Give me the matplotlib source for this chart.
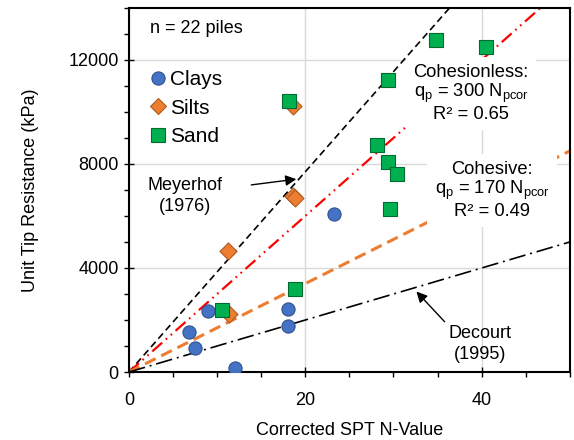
import numpy as np
import matplotlib
matplotlib.use("Agg")
import matplotlib.pyplot as plt
from matplotlib.lines import Line2D
from matplotlib.ticker import MultipleLocator

plt.rcParams['font.family'] = ['Liberation Sans', 'DejaVu Sans']
plt.rcParams['mathtext.fontset'] = 'custom'
plt.rcParams['mathtext.rm'] = 'Liberation Sans'
plt.rcParams['lines.scale_dashes'] = False

# pile data (N-value, unit tip resistance kPa)
clay_n = [6.8, 7.5, 9.0, 12.0, 18.0, 18.0, 23.2]
clay_q = [1520, 940, 2350, 150, 2420, 1770, 6090]
silt_n = [11.3, 11.2, 18.6, 18.6, 18.8]
silt_q = [2220, 4670, 10220, 6780, 6700]
sand_n = [10.5, 18.8, 18.1, 28.1, 29.4, 29.4, 30.4, 29.6, 34.8, 40.5]
sand_q = [2400, 3190, 10420, 8710, 11230, 8060, 7600, 6270, 12760, 12500]

# q = k * N lines
meyerhof_k = 385
cohesionless_k = 300
cohesive_k = 170
decourt_k = 100

n_line = np.linspace(0, 50, 200)

fig = plt.figure(figsize=(5.74, 4.40), dpi=100)
ax = fig.add_axes([0.2247, 0.1545, 0.768, 0.8275])

ax.plot(n_line, meyerhof_k * n_line, color='black', lw=1.2, dashes=[5, 3], zorder=2)
ax.plot(n_line, cohesionless_k * n_line, color='#FF0000', lw=1.6,
        dashes=[9.5, 3.5, 1.2, 3.5, 1.2, 3.5], zorder=2)
ax.plot(n_line, cohesive_k * n_line, color='#ED7D31', lw=2.2, dashes=[8.5, 4.5], zorder=2)
ax.plot(n_line, decourt_k * n_line, color='black', lw=1.2, dashes=[12, 3.5, 1.4, 3.5], zorder=2)

ax.scatter(clay_n, clay_q, s=90, marker='o', facecolor='#4472C4', edgecolor='#2F528F', lw=0.8, zorder=5)
ax.scatter(silt_n, silt_q, s=75, marker='D', facecolor='#ED7D31', edgecolor='#AE5A21', lw=0.8, zorder=5)
ax.scatter(sand_n, sand_q, s=110, marker='s', facecolor='#00B050', edgecolor='#006A30', lw=0.8, zorder=6)

ax.set_xlim(0, 50)
ax.set_ylim(0, 14000)
ax.xaxis.set_major_locator(MultipleLocator(20))
ax.xaxis.set_minor_locator(MultipleLocator(5))
ax.yaxis.set_major_locator(MultipleLocator(4000))
ax.yaxis.set_minor_locator(MultipleLocator(1000))
ax.grid(True, which='major', color='#D9D9D9', lw=1.0, zorder=0)
ax.set_axisbelow(True)
ax.tick_params(which='major', direction='inout', length=7, width=1.0, labelsize=13, pad=4)
ax.tick_params(axis='x', which='major', pad=11)
ax.tick_params(which='minor', direction='out', length=3.5, width=1.0)
for sp in ax.spines.values():
    sp.set_linewidth(1.5)

ax.set_xlabel('Corrected SPT N-Value', fontsize=13, labelpad=9)
ax.set_ylabel('Unit Tip Resistance (kPa)', fontsize=13, labelpad=21)

ax.text(2.4, 13215, 'n = 22 piles', fontsize=13, ha='left', va='center')

handles = [
    Line2D([], [], ls='none', marker='o', ms=9.5, mfc='#4472C4', mec='#2F528F', mew=0.8),
    Line2D([], [], ls='none', marker='D', ms=8, mfc='#ED7D31', mec='#AE5A21', mew=0.8),
    Line2D([], [], ls='none', marker='s', ms=10, mfc='#00B050', mec='#006A30', mew=0.8),
]
ax.legend(handles, ['Clays', 'Silts', 'Sand'], loc='upper left', bbox_to_anchor=(0.048, 0.83),
          frameon=False, fontsize=15, handlelength=0.8, handletextpad=0.15,
          borderpad=0, borderaxespad=0, labelspacing=0.47)

box = dict(boxstyle='square,pad=0.4', facecolor='white', edgecolor='none')
ax.text(38.8, 10700, 'Cohesionless:\nq$_\\mathregular{p}$ = 300 N$_\\mathregular{pcor}$\nR² = 0.65',
        fontsize=13.2, ha='center', va='center', multialignment='center',
        linespacing=1.05, bbox=box, zorder=4)
ax.text(41.2, 6990, 'Cohesive:\nq$_\\mathregular{p}$ = 170 N$_\\mathregular{pcor}$\nR² = 0.49',
        fontsize=13.2, ha='center', va='center', multialignment='center',
        linespacing=1.05, bbox=box, zorder=4)

ax.text(6.4, 6760, 'Meyerhof\n(1976)', fontsize=13, ha='center', va='center', linespacing=1.3)
ax.annotate('', xy=(18.98, 7416), xytext=(13.88, 7195),
            arrowprops=dict(arrowstyle='-|>', color='black', lw=1.0, mutation_scale=16,
                            shrinkA=0, shrinkB=0))
ax.text(39.8, 1090, 'Decourt\n(1995)', fontsize=13, ha='center', va='center', linespacing=1.3)
ax.annotate('', xy=(32.6, 3095), xytext=(35.8, 1934),
            arrowprops=dict(arrowstyle='-|>', color='black', lw=1.0, mutation_scale=16,
                            shrinkA=0, shrinkB=0))

fig.savefig('out.png', dpi=100)
